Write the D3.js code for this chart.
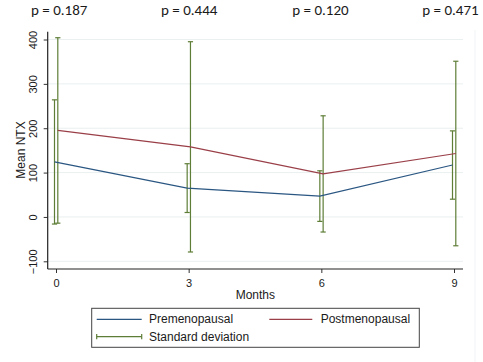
<!DOCTYPE html>
<html>
<head>
<meta charset="utf-8">
<script src="https://cdn.jsdelivr.net/npm/d3@7"></script>
<style>
  html, body { margin: 0; padding: 0; background: #fff; }
  svg { display: block; }
  text { font-family: "Liberation Sans", Arial, sans-serif; fill: #1a1a1a; }
</style>
</head>
<body>
<script>
// ---- data ----
const months = [0, 3, 6, 9];
const preMean = [124, 65, 47, 117];
const preSD = [140, 55, 57, 77];
const postMean = [195, 158, 97, 143];
const postSD = [209, 237, 131, 208];
const yTicks = [-100, 0, 100, 200, 300, 400];
const xTicks = [0, 3, 6, 9];
const pValues = ["p = 0.187", "p = 0.444", "p = 0.120", "p = 0.471"];
const legendLabels = ["Premenopausal", "Postmenopausal", "Standard deviation"];

const W = 483, H = 362;
const colPre = "#2a5682", colPost = "#9a3f48", colSD = "#5e7d36";

const svg = d3.select("body").append("svg").attr("width", W).attr("height", H);

const x = d3.scaleLinear().domain([0, 9]).range([56, 454]);
const y = d3.scaleLinear().domain([-100, 400]).range([261.3, 39.5]);
const plotLeft = 47.7, plotRight = 463, plotTop = 31.7, plotBottom = 269;

// faint outer border
svg.append("line").attr("x1", 475).attr("x2", 475).attr("y1", 30).attr("y2", H)
  .attr("stroke", "#f1f3f4").attr("stroke-width", 1);

// p-values
const pX = [31, 161, 292.3, 422.3];
svg.selectAll("text.p").data(pValues).join("text").attr("class", "p")
  .attr("x", (d, i) => pX[i]).attr("y", 15)
  .style("font-family", "Carlito, 'Open Sans', sans-serif")
  .style("font-weight", "400")
  .style("font-size", "15px").text(d => d);

// gridlines
svg.selectAll("line.grid").data(yTicks).join("line").attr("class", "grid")
  .attr("x1", plotLeft).attr("x2", plotRight)
  .attr("y1", d => y(d)).attr("y2", d => y(d))
  .attr("stroke", "#eaeff0").attr("stroke-width", 1);

// axes
const yAxis = d3.axisLeft(y).tickValues(yTicks).tickSize(4).tickFormat(d3.format("d"));
const gy = svg.append("g").attr("transform", `translate(${plotLeft},0)`).call(yAxis);
gy.select(".domain").remove();
gy.selectAll(".tick line").attr("stroke", "#333");
gy.selectAll(".tick text")
  .attr("x", null).attr("dy", null)
  .attr("transform", "translate(-10.5,0) rotate(-90)")
  .attr("text-anchor", "middle")
  .style("font-size", "11px").style("font-family", "'Liberation Sans', Arial, sans-serif")
  .attr("fill", "#1a1a1a");
svg.append("line").attr("x1", plotLeft).attr("x2", plotLeft).attr("y1", plotTop).attr("y2", plotBottom)
  .attr("stroke", "#222").attr("stroke-width", 1.2);

const xAxis = d3.axisBottom(x).tickValues(xTicks).tickSize(4).tickFormat(d3.format("d"));
const gx = svg.append("g").attr("transform", `translate(0,${plotBottom})`).call(xAxis);
gx.select(".domain").remove();
gx.selectAll(".tick line").attr("stroke", "#333");
gx.selectAll(".tick text").attr("y", 18).attr("dy", null)
  .style("font-size", "11px").style("font-family", "'Liberation Sans', Arial, sans-serif")
  .attr("fill", "#1a1a1a");
svg.append("line").attr("x1", plotLeft).attr("x2", plotRight).attr("y1", plotBottom).attr("y2", plotBottom)
  .attr("stroke", "#222").attr("stroke-width", 1.2);

// axis titles
svg.append("text").attr("transform", "translate(25,150) rotate(-90)")
  .attr("text-anchor", "middle").style("font-size", "12px").text("Mean NTX");
svg.append("text").attr("x", (plotLeft + plotRight) / 2).attr("y", 299)
  .attr("text-anchor", "middle").style("font-size", "12px").text("Months");

// series
const series = [
  { mean: preMean, sd: preSD, color: colPre, dx: -1.5 },
  { mean: postMean, sd: postSD, color: colPost, dx: 1.8 }
];
const capW = 2.6;
series.forEach(s => {
  const pts = months.map((m, i) => ({ m, v: s.mean[i], sd: s.sd[i] }));
  const g = svg.append("g");
  pts.forEach(p => {
    const cx = x(p.m) + s.dx;
    const yt = y(p.v + p.sd), yb = y(p.v - p.sd);
    g.append("line").attr("x1", cx).attr("x2", cx).attr("y1", yt).attr("y2", yb)
      .attr("stroke", colSD).attr("stroke-width", 1.2);
    [yt, yb].forEach(yy => g.append("line").attr("x1", cx - capW).attr("x2", cx + capW)
      .attr("y1", yy).attr("y2", yy).attr("stroke", colSD).attr("stroke-width", 1.2));
  });
});
series.forEach(s => {
  const pts = months.map((m, i) => ({ m, v: s.mean[i] }));
  const line = d3.line().x(d => x(d.m) + s.dx).y(d => y(d.v));
  svg.append("path").datum(pts).attr("d", line).attr("fill", "none")
    .attr("stroke", s.color).attr("stroke-width", 1.2);
});

// legend
const lg = svg.append("g");
lg.append("rect").attr("x", 91.7).attr("y", 308.3).attr("width", 327.6).attr("height", 39)
  .attr("fill", "#fff").attr("stroke", "#444").attr("stroke-width", 1);
const legendItems = [
  { label: legendLabels[0], color: colPre, x0: 96.7, x1: 141.7, ty: 323.3, ly: 319.3, tx: 149, cap: false },
  { label: legendLabels[1], color: colPost, x0: 269.3, x1: 312.3, ty: 323.3, ly: 319.3, tx: 320.7, cap: false },
  { label: legendLabels[2], color: colSD, x0: 96.7, x1: 141.7, ty: 340.7, ly: 336.7, tx: 149, cap: true }
];
legendItems.forEach(it => {
  lg.append("line").attr("x1", it.x0).attr("x2", it.x1).attr("y1", it.ly).attr("y2", it.ly)
    .attr("stroke", it.color).attr("stroke-width", 1.2);
  if (it.cap) {
    [it.x0, it.x1].forEach(cx => lg.append("line").attr("x1", cx).attr("x2", cx)
      .attr("y1", it.ly - capW).attr("y2", it.ly + capW).attr("stroke", it.color).attr("stroke-width", 1.2));
  }
  lg.append("text").attr("x", it.tx).attr("y", it.ty).style("font-size", "12px").text(it.label);
});
</script>
</body>
</html>
